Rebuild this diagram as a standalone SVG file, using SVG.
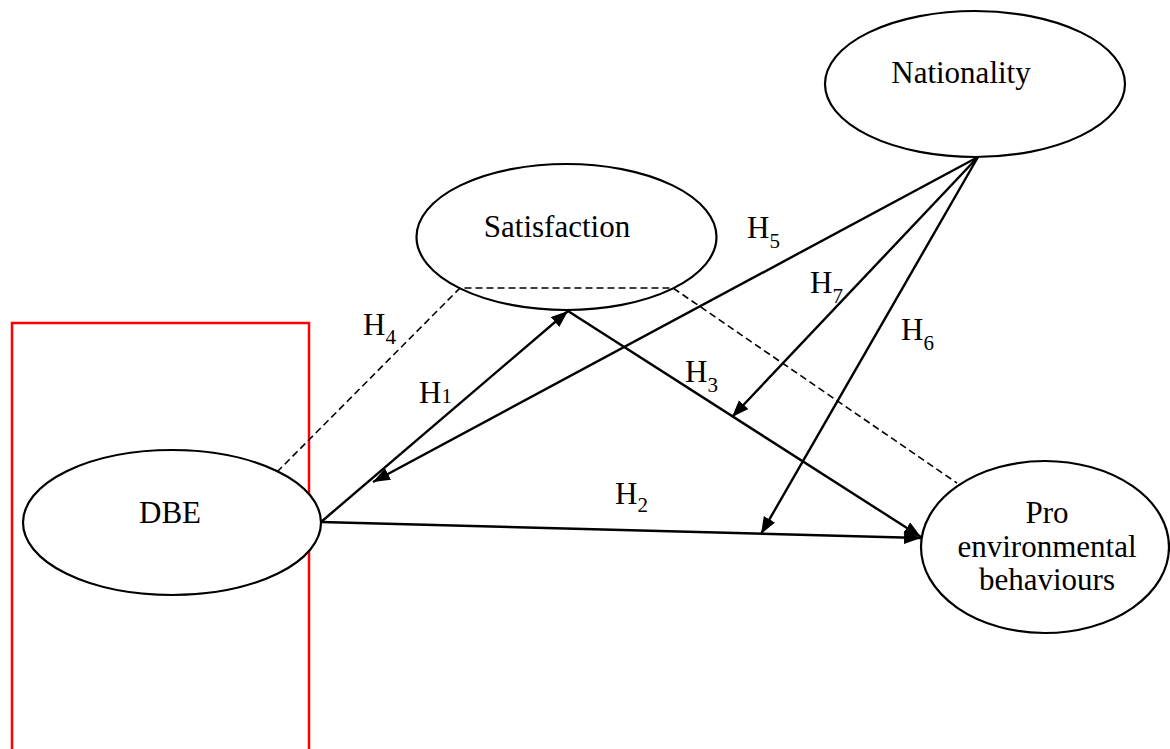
<svg xmlns="http://www.w3.org/2000/svg" width="1170" height="749" viewBox="0 0 1170 749">
<defs>
<marker id="ah" markerUnits="userSpaceOnUse" markerWidth="18" markerHeight="14" refX="17" refY="6.5" orient="auto">
<path d="M0,0 L17,6.5 L0,13 z" fill="#000"/>
</marker>
<style>
.node ellipse{fill:#fff;stroke:#000;stroke-width:2.2}
.t{font-family:"Liberation Serif","Times New Roman",serif;font-size:31px;fill:#000}
.lbl{font-family:"Liberation Serif","Times New Roman",serif;font-size:31px;fill:#000}
.sub{font-size:21px}
.c{fill:none;stroke:#000;stroke-width:2.4}
.d{fill:none;stroke:#000;stroke-width:1.6;stroke-dasharray:7,4}
</style>
</defs>
<rect width="1170" height="749" fill="#fff"/>
<rect id="highlight" x="12" y="323" width="297" height="440" fill="none" stroke="#f00" stroke-width="2.5"/>
<g id="nationality" class="node">
<ellipse cx="975" cy="84" rx="150" ry="73"/>
<text class="t" x="961" y="83" text-anchor="middle">Nationality</text>
</g>
<g id="satisfaction" class="node">
<ellipse cx="566.5" cy="237" rx="150" ry="73"/>
<text class="t" x="557" y="237" text-anchor="middle">Satisfaction</text>
</g>
<g id="dbe" class="node">
<ellipse cx="172" cy="522.5" rx="149" ry="72.5"/>
<text class="t" x="170" y="523" text-anchor="middle">DBE</text>
</g>
<g id="pro" class="node">
<ellipse cx="1045" cy="547" rx="124" ry="86"/>
<text class="t" x="1047" y="523" text-anchor="middle">Pro</text>
<text class="t" x="1047" y="557" text-anchor="middle">environmental</text>
<text class="t" x="1047" y="590" text-anchor="middle">behaviours</text>
</g>
<g id="connectors">
<polyline class="d" points="277,472 460,288 673,288 957,483"/>
<line class="c" x1="321" y1="522" x2="568" y2="311" marker-end="url(#ah)"/>
<line class="c" x1="568" y1="311" x2="921" y2="537" marker-end="url(#ah)"/>
<line class="c" x1="321" y1="522" x2="921" y2="538" marker-end="url(#ah)"/>
<line class="c" x1="978" y1="157" x2="373" y2="482" marker-end="url(#ah)"/>
<line class="c" x1="978" y1="157" x2="732" y2="417" marker-end="url(#ah)"/>
<line class="c" x1="978" y1="157" x2="761" y2="534" marker-end="url(#ah)"/>
</g>
<g id="labels" class="lbl">
<text x="419" y="403">H<tspan class="sub">1</tspan></text>
<text x="615" y="504">H<tspan class="sub" dy="8">2</tspan></text>
<text x="685" y="382">H<tspan class="sub" dy="10">3</tspan></text>
<text x="363" y="335">H<tspan class="sub" dy="9">4</tspan></text>
<text x="747" y="238">H<tspan class="sub" dy="10">5</tspan></text>
<text x="901" y="340">H<tspan class="sub" dy="10">6</tspan></text>
<text x="810" y="293">H<tspan class="sub" dy="10">7</tspan></text>
</g>
</svg>
